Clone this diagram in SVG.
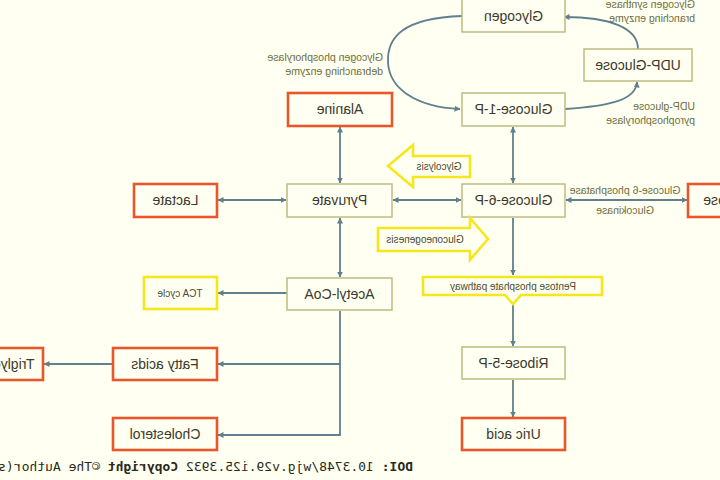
<svg xmlns="http://www.w3.org/2000/svg" width="720" height="480" viewBox="0 0 720 480">
<defs>
<marker id="ah" viewBox="0 0 6 6" refX="5.5" refY="3" markerWidth="6" markerHeight="6" markerUnits="userSpaceOnUse" orient="auto-start-reverse">
<path d="M0,0 L6,3 L0,6 z" fill="#5f808c"/>
</marker>
<style>
.bx{fill:#fffff2;stroke:#bdbd80;stroke-width:1.5}
.rd{fill:#fffff2;stroke:#e8562a;stroke-width:2.6}
.yl{fill:#fffff2;stroke:#f6e61c;stroke-width:2.6;stroke-linejoin:miter}
.t{font-family:"Liberation Sans",Arial,sans-serif;font-size:14px;fill:#3a3a2c;text-anchor:middle}
.s{font-family:"Liberation Sans",Arial,sans-serif;font-size:10.5px;fill:#6e6e3c}
.sm{font-family:"Liberation Sans",Arial,sans-serif;font-size:10px;fill:#4a4a30;text-anchor:middle}
.c{fill:none;stroke:#5f808c;stroke-width:1.8}
.f{font-family:"DejaVu Sans Mono",monospace;font-size:13px;fill:#2a2a1a}
</style>
</defs>
<rect width="720" height="480" fill="#fffff2"/>
<g transform="translate(720,0) scale(-1,1)">
<g id="connectors">
<path class="c" d="M258,16 C318,18 333,38 332,62 C331,88 305,107 260,109" marker-end="url(#ah)"/>
<path class="c" d="M155,109 C110,106 84,100 83,82" marker-end="url(#ah)"/>
<path class="c" d="M82,49 C82,28 110,17 156,17" marker-end="url(#ah)"/>
<path class="c" d="M207,127 V183" marker-start="url(#ah)" marker-end="url(#ah)"/>
<path class="c" d="M380,127 V183" marker-start="url(#ah)" marker-end="url(#ah)"/>
<path class="c" d="M259,200 H327" marker-start="url(#ah)" marker-end="url(#ah)"/>
<path class="c" d="M434,200 H502" marker-start="url(#ah)" marker-end="url(#ah)"/>
<path class="c" d="M33,200 H154" marker-start="url(#ah)" marker-end="url(#ah)"/>
<path class="c" d="M380,218 V277" marker-start="url(#ah)" marker-end="url(#ah)"/>
<path class="c" d="M433,293 H502" marker-end="url(#ah)"/>
<path class="c" d="M380,311 V435 H502" marker-end="url(#ah)"/>
<path class="c" d="M380,364 H502" marker-end="url(#ah)"/>
<path class="c" d="M607,364 H676" marker-end="url(#ah)"/>
<path class="c" d="M207,218 V275" marker-end="url(#ah)"/>
<path class="c" d="M207,300 V346" marker-end="url(#ah)"/>
<path class="c" d="M207,380 V417" marker-end="url(#ah)"/>
</g>
<g id="labels">
<text class="s" x="337" y="61">Glycogen phosphorylase</text>
<text class="s" x="337" y="75">debranching enzyme</text>
<text class="s" x="25" y="8">Glycogen synthase</text>
<text class="s" x="25" y="22">branching enzyme</text>
<text class="s" x="25" y="110">UDP-glucose</text>
<text class="s" x="25" y="124">pyrophosphorylase</text>
<text class="s" x="95" y="194" text-anchor="middle">Glucose-6 phosphatase</text>
<text class="s" x="95" y="214" text-anchor="middle">Glucokinase</text>
</g>
<g id="glycogen"><rect class="bx" x="155" y="-1" width="103" height="33"/><text class="t" x="206.5" y="21">Glycogen</text></g>
<g id="udp-glucose"><rect class="bx" x="28" y="49" width="108" height="32"/><text class="t" x="82" y="70">UDP-Glucose</text></g>
<g id="glucose-1-p"><rect class="bx" x="155" y="93" width="103" height="33"/><text class="t" x="206.5" y="114">Glucose-1-P</text></g>
<g id="alanine"><rect class="rd" x="328" y="93" width="104" height="33"/><text class="t" x="380" y="114">Alanine</text></g>
<g id="glucose-6-p"><rect class="bx" x="155" y="184" width="103" height="33"/><text class="t" x="206.5" y="205">Glucose-6-P</text></g>
<g id="pyruvate"><rect class="bx" x="328" y="184" width="105" height="33"/><text class="t" x="380.5" y="205">Pyruvate</text></g>
<g id="lactate"><rect class="rd" x="503" y="184" width="83" height="33"/><text class="t" x="544.5" y="205">Lactate</text></g>
<g id="glucose"><rect class="rd" x="-50" y="184" width="82" height="33"/><text class="t" x="-9" y="205">Glucose</text></g>
<g id="glycolysis"><polygon class="yl" points="250,156 307,156 307,145 332,166 307,187 307,177 250,177"/><text class="sm" x="281" y="170">Glycolysis</text></g>
<g id="gluconeogenesis"><polygon class="yl" points="342,228 250,228 250,218 232,239 250,260 250,251 342,251"/><text class="sm" x="295" y="243">Gluconeogenesis</text></g>
<g id="acetyl-coa"><rect class="bx" x="328" y="278" width="105" height="32"/><text class="t" x="380.5" y="299">Acetyl-CoA</text></g>
<g id="tca-cycle"><rect class="yl" x="503" y="277" width="73" height="32"/><text class="sm" x="540" y="297">TCA cycle</text></g>
<g id="pentose-phosphate-pathway"><path class="yl" d="M118,277 H297 V295 H215 L207,304 L199,295 H118 Z"/><text class="sm" x="207" y="290">Pentose phosphate pathway</text></g>
<g id="ribose-5-p"><rect class="bx" x="155" y="347" width="103" height="32"/><text class="t" x="206.5" y="368">Ribose-5-P</text></g>
<g id="uric-acid"><rect class="rd" x="155" y="418" width="103" height="32"/><text class="t" x="206.5" y="439">Uric acid</text></g>
<g id="fatty-acids"><rect class="rd" x="503" y="348" width="104" height="32"/><text class="t" x="555" y="369">Fatty acids</text></g>
<g id="cholesterol"><rect class="rd" x="503" y="418" width="104" height="32"/><text class="t" x="555" y="439">Cholesterol</text></g>
<g id="triglycerides"><rect class="rd" x="677" y="348" width="104" height="32"/><text class="t" x="725" y="369">Triglycerides</text></g>
<text class="f" x="307" y="471" xml:space="preserve"><tspan font-weight="bold">DOI:</tspan> 10.3748/wjg.v29.i25.3932 <tspan font-weight="bold">Copyright</tspan> ©The Author(s) 2023.</text>
</g>
</svg>
